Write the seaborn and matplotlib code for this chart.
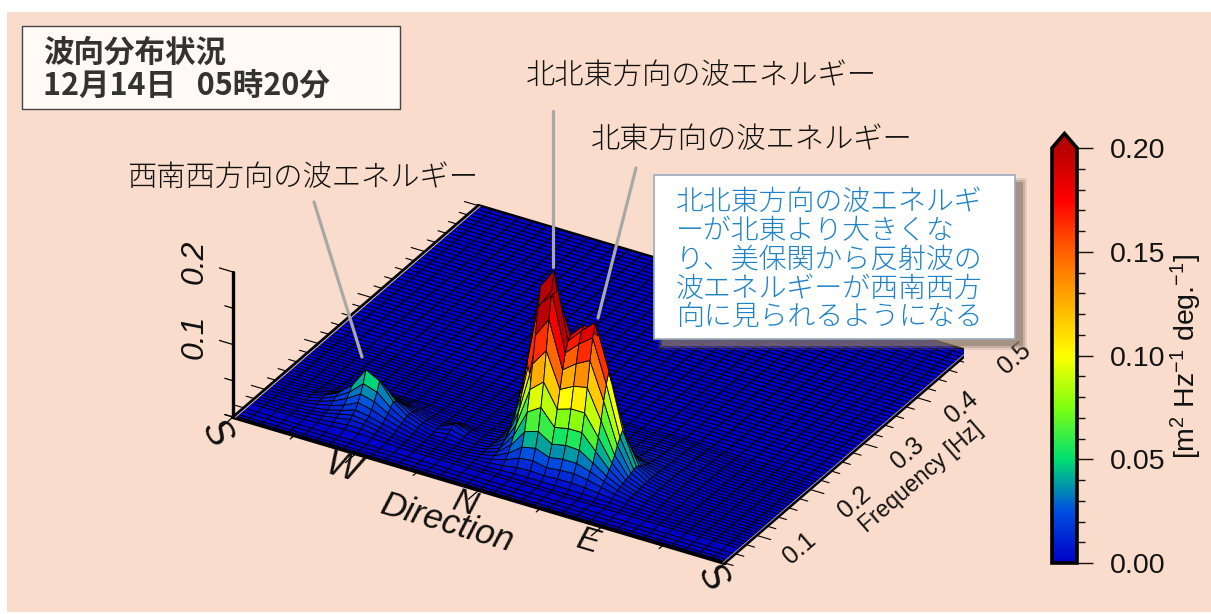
import numpy as np
import matplotlib
matplotlib.use('Agg')
import matplotlib.pyplot as plt
import seaborn as sns
from matplotlib.lines import Line2D
from matplotlib.patches import Rectangle
from mpl_toolkits.mplot3d import proj3d

# directions from S through W, N, E back to S (degrees), frequency rows (Hz)
directions = np.arange(0, 361, 10)
freqs = np.r_[np.arange(0.04, 0.0651, 0.0065), np.arange(0.07, 0.2201, 0.005), np.arange(0.2265, 0.5001, 0.0065), [0.5]]

# energy, in 1/1000 of m2/Hz/deg
# main peak: columns 150..300 deg, rows 0.08.. Hz
main_dir_start = 150
main_freq_start = 0.08
main_peak = [
    [0, 1, 1, 2, 3, 3, 3, 3, 3, 3, 2, 2, 1, 1, 0, 0],
    [1, 2, 3, 5, 8, 9, 8, 9, 9, 8, 6, 4, 2, 1, 1, 0],
    [1, 2, 5, 10, 18, 20, 16, 18, 19, 16, 11, 7, 4, 2, 1, 1],
    [1, 3, 7, 16, 30, 34, 27, 30, 30, 24, 16, 9, 5, 3, 2, 1],
    [1, 3, 9, 24, 48, 54, 42, 46, 45, 33, 20, 11, 6, 3, 2, 1],
    [1, 4, 11, 34, 72, 84, 62, 66, 66, 46, 26, 12, 6, 4, 2, 1],
    [2, 4, 14, 46, 100, 116, 84, 90, 90, 62, 32, 14, 7, 4, 2, 1],
    [2, 4, 18, 62, 132, 156, 108, 118, 122, 82, 40, 15, 7, 4, 3, 1],
    [2, 4, 22, 82, 168, 196, 132, 146, 156, 106, 50, 17, 8, 5, 3, 2],
    [2, 4, 26, 102, 204, 232, 152, 170, 184, 126, 58, 19, 8, 5, 3, 2],
    [2, 4, 30, 120, 230, 257, 165, 185, 202, 140, 65, 20, 8, 5, 3, 2],
    [2, 4, 24, 100, 205, 225, 170, 190, 180, 122, 55, 18, 8, 5, 3, 2],
    [2, 4, 16, 70, 150, 165, 140, 150, 130, 88, 40, 15, 8, 5, 3, 2],
    [1, 3, 10, 44, 100, 112, 100, 105, 88, 58, 28, 13, 8, 5, 3, 2],
    [1, 3, 6, 25, 62, 70, 66, 70, 56, 36, 18, 11, 7, 5, 3, 2],
    [1, 2, 4, 14, 36, 42, 42, 44, 34, 22, 12, 9, 7, 5, 3, 2],
    [1, 2, 3, 8, 20, 24, 24, 26, 20, 13, 9, 8, 6, 5, 3, 2],
    [1, 1, 2, 5, 13, 16, 16, 18, 14, 10, 8, 7, 6, 4, 3, 2],
    [1, 1, 2, 4, 9, 11, 11, 12, 9, 7, 7, 7, 6, 4, 3, 2],
    [1, 1, 1, 3, 6, 8, 8, 8, 7, 6, 6, 6, 5, 4, 3, 2],
    [0, 1, 1, 2, 4, 5, 5, 5, 5, 5, 6, 6, 5, 4, 3, 2],
    [0, 0, 1, 1, 3, 3, 4, 4, 4, 4, 5, 5, 5, 4, 3, 2],
    [0, 0, 1, 1, 2, 2, 3, 3, 3, 4, 5, 5, 5, 4, 3, 2],
    [0, 0, 0, 1, 1, 1, 2, 2, 2, 3, 4, 4, 4, 3, 2, 1],
    [0, 0, 0, 1, 1, 1, 1, 2, 2, 3, 4, 4, 4, 3, 2, 1],
    [0, 0, 0, 0, 1, 1, 1, 1, 2, 2, 3, 3, 3, 2, 2, 1],
    [0, 0, 0, 0, 1, 1, 1, 1, 1, 2, 3, 3, 3, 2, 2, 1],
    [0, 0, 0, 0, 0, 0, 1, 1, 1, 1, 2, 2, 2, 1, 1, 0],
    [0, 0, 0, 0, 0, 0, 0, 0, 0, 1, 1, 1, 1, 1, 0, 0],
]

# west-south-west bump: columns 20..120 deg, rows 0.07.. Hz
west_dir_start = 20
west_freq_start = 0.07
west_peak = [
    [0, 0, 0, 1, 2, 3, 3, 2, 1, 0, 0],
    [0, 0, 1, 2, 4, 6, 6, 4, 2, 1, 0],
    [0, 0, 2, 4, 7, 10, 9, 6, 3, 1, 0],
    [0, 1, 2, 5, 9, 13, 11, 7, 3, 1, 0],
    [0, 1, 3, 6, 11, 17, 14, 9, 5, 2, 1],
    [1, 2, 5, 9, 15, 24, 20, 13, 7, 3, 1],
    [1, 2, 6, 12, 21, 33, 28, 17, 9, 4, 1],
    [1, 3, 7, 15, 27, 44, 38, 22, 11, 5, 2],
    [1, 3, 8, 17, 33, 60, 50, 27, 13, 6, 2],
    [1, 3, 7, 15, 28, 48, 44, 25, 13, 6, 2],
    [1, 2, 6, 12, 21, 35, 33, 21, 12, 6, 2],
    [0, 2, 4, 8, 15, 24, 24, 16, 10, 5, 2],
    [0, 1, 3, 6, 10, 15, 16, 12, 8, 4, 2],
    [0, 1, 2, 4, 6, 9, 10, 8, 6, 3, 1],
    [0, 0, 1, 2, 4, 6, 7, 6, 4, 2, 1],
    [0, 0, 1, 1, 2, 4, 4, 4, 3, 2, 1],
    [0, 0, 0, 1, 1, 2, 2, 2, 2, 1, 0],
]

# tiny bump left of the main peak: columns 120..140 deg, rows 0.105.. Hz
small_dir_start = 120
small_freq_start = 0.105
small_peak = [
    [1, 2, 1],
    [2, 5, 2],
    [3, 8, 3],
    [3, 12, 4],
    [3, 10, 4],
    [2, 6, 3],
    [1, 3, 1],
]

dir_ticks = [0, 90, 180, 270, 360]
dir_labels = ['S', 'W', 'N', 'E', 'S']
freq_ticks = [0.1, 0.2, 0.3, 0.4, 0.5]
z_ticks = [0.1, 0.2]
cbar_ticks = [0.0, 0.05, 0.10, 0.15, 0.20]

title_lines = '波向分布状況\n12月14日   05時20分'
note_lines = ['北北東方向の波エネルギ', 'ーが北東より大きくな', 'り、美保関から反射波の', '波エネルギーが西南西方', '向に見られるようになる']

W, H = 1211, 614
JP = ['Noto Sans CJK JP', 'DejaVu Sans']
PEACH = '#f9dccb'

sns.set_theme(style='white')
plt.rcParams['font.family'] = ['Liberation Sans', 'Noto Sans CJK JP', 'DejaVu Sans']
plt.rcParams['mathtext.default'] = 'regular'


def fx(x):
    return x / W


def fy(y):
    return 1 - y / H


def put_text(x, y, s, size, **kw):
    kw.setdefault('ha', 'center')
    kw.setdefault('va', 'center')
    kw.setdefault('color', '#111111')
    fig.text(fx(x), fy(y), s, fontsize=size, **kw)


# build the surface table
energy = np.zeros((len(freqs), len(directions)))
for table, d0, f0 in [(main_peak, main_dir_start, main_freq_start),
                      (west_peak, west_dir_start, west_freq_start),
                      (small_peak, small_dir_start, small_freq_start)]:
    j0 = np.searchsorted(directions, d0)
    i0 = np.argmin(np.abs(freqs - f0))
    table = np.array(table) / 1000
    energy[i0:i0 + table.shape[0], j0:j0 + table.shape[1]] = table

cmap = sns.blend_palette(['#0000c8', '#0050e0', '#00e070', '#80ff10', '#ffff00',
                          '#ffb000', '#ff6000', '#ff0000', '#b80000'], n_colors=256, as_cmap=True)
cmap.set_over('#b80000')
norm = plt.Normalize(0, 0.2)

fig = plt.figure(figsize=(W / 100, H / 100), dpi=100, facecolor='white')
fig.patches.append(Rectangle((fx(7), 0.003), 1 - fx(7), fy(12) - 0.003, transform=fig.transFigure,
                             facecolor=PEACH, edgecolor='none', zorder=-5))
fig.patches[-1].set_figure(fig)

ax = fig.add_axes([0, 0, 1, 1], projection='3d', facecolor='none')
ax.computed_zorder = False
ax.set_proj_type('ortho')
ax.view_init(elev=30.4, azim=-59.6)
ax.set_box_aspect((570, 484, 168))
ax.set_xlim(0, 360)
ax.set_ylim(freqs[0], 0.5)
ax.set_zlim(0, 0.2)
ax.set_axis_off()

X, Y = np.meshgrid(directions, freqs)
cell_mean = (energy[:-1, :-1] + energy[1:, :-1] + energy[:-1, 1:] + energy[1:, 1:]) / 4
ax.plot_surface(X, Y, energy, rstride=1, cstride=1, facecolors=cmap(norm(cell_mean)), shade=False,
                edgecolor='black', linewidth=0.6, zorder=2)

# frame around the base
fmin, fmax = freqs[0], 0.5
ax.plot([0, 360], [fmin, fmin], [0, 0], color='black', lw=3.0, zorder=4)
ax.plot([360, 360], [fmin, fmax], [0, 0], color='black', lw=1.6, zorder=4)
ax.plot([0, 0], [fmin, fmax], [0, 0], color='black', lw=2.0, zorder=4)
ax.plot([0, 360], [fmax, fmax], [0, 0], color='black', lw=2.5, zorder=1)
ax.plot([1.5, 1.5], [fmin, fmax], [0, 0], color='#d8c8a8', lw=0.7, zorder=4)
ax.plot([358.5, 358.5], [fmin, fmax], [0, 0], color='#b8a888', lw=0.6, zorder=4)

# z axis
ax.plot([0, 0], [fmin, fmin], [0, 0.2], color='black', lw=2.4, zorder=5)
for z in [0, 0.05, 0.1, 0.15, 0.2]:
    length = 12 if z in z_ticks else 6
    ax.plot([0, -length], [fmin, fmin], [z, z], color='black', lw=0.9, zorder=5)

# frequency ticks on both side edges
for f in np.arange(0.04, 0.5001, 0.02):
    major = round(f, 2) in freq_ticks
    ax.plot([0, -10 if major else -6], [f, f], [0, 0], color='black', lw=0.8, zorder=3)
    ax.plot([360, 370 if major else 366], [f, f], [0, 0], color='black', lw=0.8, zorder=3)

# direction ticks on the front edge
for d in range(0, 361, 45):
    length = 0.02 if d in dir_ticks else 0.008
    ax.plot([d, d], [fmin, fmin - length], [0, 0], color='black', lw=0.9, zorder=3)

# scale and move the axes so the base corners land on their pixels
target_left = (233, H - 417)
target_front = (725, H - 563)
fig.canvas.draw()


def to_pixels(x, y, z):
    px, py, _ = proj3d.proj_transform(x, y, z, ax.get_proj())
    return ax.transData.transform((px, py))


p0 = to_pixels(0, fmin, 0)
p1 = to_pixels(360, fmin, 0)
pos = ax.get_position(original=False)
L, B, AW, AH = pos.x0 * W, pos.y0 * H, pos.width * W, pos.height * H
k = (target_front[0] - target_left[0]) / (p1[0] - p0[0])
frac_x = (p0[0] - L) / AW
frac_y = (p0[1] - B) / AH
new_w, new_h = AW * k, AH * k
ax.set_position([(target_left[0] - frac_x * new_w) / W, (target_left[1] - frac_y * new_h) / H,
                 new_w / W, new_h / H])

# labels of the 3D axes
put_text(216, 434, dir_labels[0], 27, rotation=-60, style='italic')
put_text(712, 578, dir_labels[4], 27, rotation=-60, style='italic')
for x, y, s, size in zip([343, 465, 588], [469, 504, 542], dir_labels[1:4], [26, 24, 24]):
    put_text(x, y, s, size, rotation=-16.5, style='italic')
put_text(447, 523, 'Direction', 25, rotation=-16.5, style='italic')
for x, y, t in zip([800, 855, 908, 962, 1015], [548, 502, 453, 407, 358], freq_ticks):
    put_text(x, y, f'{t:.1f}', 18, rotation=41)
put_text(921, 477, 'Frequency [Hz]', 16.5, rotation=41)
put_text(195, 337, '0.1', 23, rotation=90, style='italic')
put_text(195, 262, '0.2', 23, rotation=90, style='italic')

# colour bar, the axes also holds the triangle on top
cax = fig.add_axes([fx(1052), fy(563), 25 / W, 429.5 / H])
sm = plt.cm.ScalarMappable(norm=norm, cmap=cmap)
cbar = fig.colorbar(sm, cax=cax, extend='max', extendfrac=0.035)
cbar.outline.set_linewidth(2.6)
cbar.outline.set_edgecolor('black')
cbar.set_ticks(cbar_ticks, labels=[f'{t:.2f}' for t in cbar_ticks])
cbar.set_ticks(np.arange(0, 0.2001, 0.01), minor=True)
cax.tick_params(axis='y', which='major', length=11.5, width=1.0, labelsize=20.5, pad=12, colors='#111111', right=True)
cax.tick_params(axis='y', which='minor', length=5.8, width=1.0, colors='#111111', right=True)
put_text(1186, 356, '[m$^{2}$ Hz$^{-1}$ deg.$^{-1}$]', 20.5, rotation=90)

# title box
fig.add_artist(Rectangle((fx(22), fy(109)), 378 / W, 83 / H, transform=fig.transFigure,
                         facecolor='#fffaf6', edgecolor='#444444', lw=1.0, zorder=5))
fig.text(fx(43), fy(70), title_lines, family=JP, fontsize=22, fontweight='bold', color='#333333',
         ha='left', va='center', linespacing=1.08, zorder=6)

# callout captions and pointers
put_text(701, 76, '北北東方向の波エネルギー', 21.1, family=JP, fontweight='light')
put_text(752, 140, '北東方向の波エネルギー', 21.1, family=JP, fontweight='light')
put_text(303, 178, '西南西方向の波エネルギー', 21.1, family=JP, fontweight='light')
for x0, y0, x1, y1 in [(314, 202, 362, 357), (553, 111, 553, 267), (636, 168, 598, 318)]:
    fig.add_artist(Line2D([fx(x0), fx(x1)], [fy(y0), fy(y1)], color='#a8a8a8', lw=2.3,
                          transform=fig.transFigure, zorder=4))

# note box with a soft shadow
for grow, alpha in [(4, 0.18), (2, 0.3), (0, 0.55)]:
    fig.add_artist(Rectangle((fx(662 - grow), fy(346 + grow)), (361 + 2 * grow) / W, (164 + 2 * grow) / H,
                             transform=fig.transFigure, facecolor='#8a7a6e', edgecolor='none',
                             alpha=alpha, zorder=5))
fig.add_artist(Rectangle((fx(654), fy(339)), 361 / W, 164 / H, transform=fig.transFigure,
                         facecolor='white', edgecolor='#9aaabb', lw=1.2, zorder=6))
for i, line in enumerate(note_lines):
    fig.text(fx(676), fy(202 + i * 28.8), line, family=JP, fontsize=20.1, fontweight='light', color='#1e82c8',
             ha='left', va='center', zorder=7)

fig.savefig('out.png', dpi=100)
